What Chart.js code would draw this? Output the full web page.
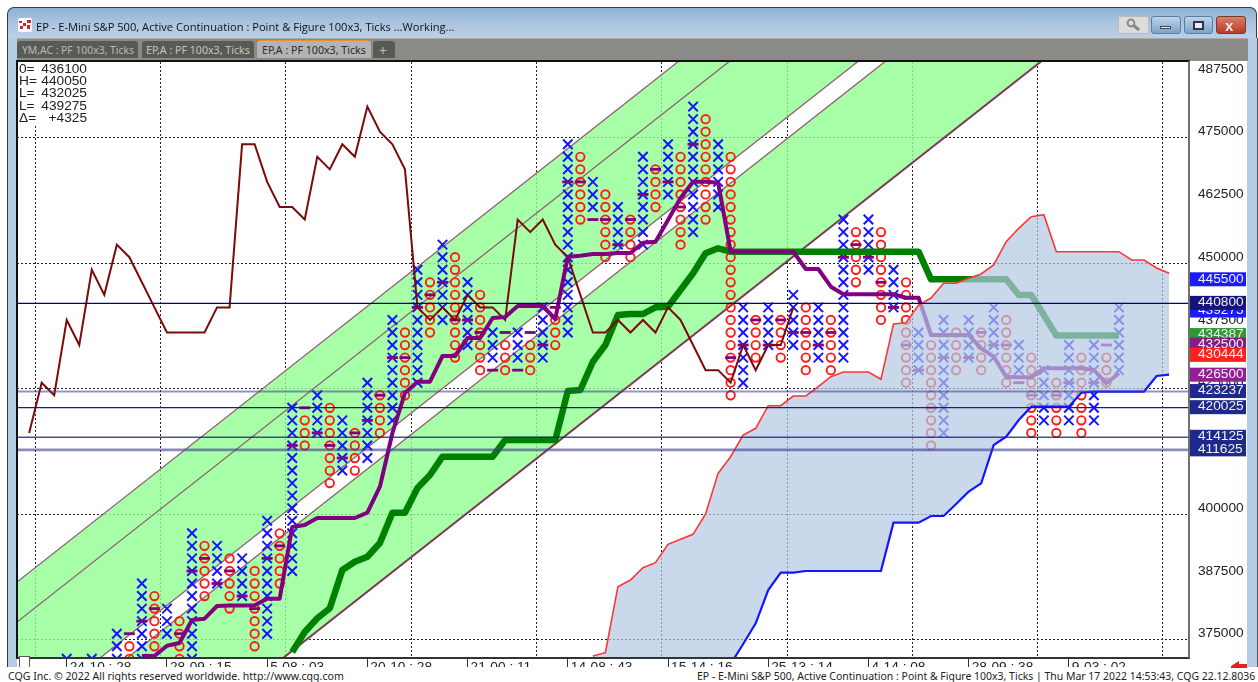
<!DOCTYPE html>
<html><head><meta charset="utf-8">
<script src="https://cdn.jsdelivr.net/npm/chart.js@4"></script>
<style>
html,body{margin:0;padding:0;background:#fff}
#w{position:relative;width:1258px;height:682px;overflow:hidden;background:#fff}
#w div,#w span{position:absolute;box-sizing:border-box}
canvas{position:absolute;left:0;top:0}
.t{white-space:nowrap;line-height:1}
.lg{font:13.7px "Liberation Sans";color:#222;white-space:pre;line-height:1}
</style></head><body>
<div id="w">
<canvas id="c" width="1258" height="682"></canvas>
<!-- window chrome -->
<div style="left:7px;top:7px;width:1250px;height:31px;border:1px solid #3a3a3a;border-bottom:0;border-radius:7px 7px 0 0;background:linear-gradient(#8db0d4,#a9c3df 45%,#bcd0e5)"></div>
<div style="left:7px;top:38px;width:10px;height:630px;background:#b5cde6;border-left:1px solid #3a3a3a"></div>
<div style="left:1247px;top:38px;width:11px;height:630px;background:#b5cde6;border-right:1px solid #555"></div>
<div style="left:17px;top:38px;width:1231px;height:23px;background:#8a8a86;border-top:1px solid #a8a8a4"></div>
<svg style="position:absolute;left:18px;top:18px" width="14" height="14"><rect width="14" height="14" rx="2" fill="#fff"/><g fill="#d0202a"><rect x="1" y="3" width="3" height="2"/><rect x="5" y="5" width="3" height="3"/><rect x="9" y="2" width="4" height="3"/><rect x="2" y="8" width="3" height="3"/><rect x="9" y="7" width="3" height="4"/></g></svg>
<span class="t" id="title" data-w="419" style="left:36px;top:19px;font:12px 'Open Sans';color:#111">EP - E-Mini S&amp;P 500, Active Continuation : Point &amp; Figure 100x3, Ticks ...Working...</span>
<div style="left:1118px;top:16px;width:31px;height:18px;background:#dcdcdc;border:1px solid #bbb"></div>
<svg style="position:absolute;left:1126px;top:18px" width="15" height="14"><circle cx="5" cy="5" r="3.4" fill="none" stroke="#888" stroke-width="2"/><line x1="7" y1="7" x2="13" y2="12" stroke="#888" stroke-width="3"/></svg>
<div style="left:1151px;top:16px;width:30px;height:18px;border:1px solid #5d7f9f;border-radius:3px;background:linear-gradient(#bcd3ea,#7ea3c9)"></div>
<div style="left:1160px;top:26px;width:11px;height:3px;background:#e8eef5;border:1px solid #445"></div>
<div style="left:1184px;top:16px;width:29px;height:18px;border:1px solid #5d7f9f;border-radius:3px;background:linear-gradient(#bcd3ea,#7ea3c9)"></div>
<div style="left:1193px;top:21px;width:11px;height:9px;background:#e8eef5;border:2px solid #334"></div>
<div style="left:1216px;top:16px;width:30px;height:18px;border:1px solid #7a3a30;border-radius:3px;background:linear-gradient(#d9806c,#b83a24)"></div>
<span class="t" style="left:1225px;top:17px;font:bold 15px 'Liberation Sans';color:#eee">x</span>
<!-- tabs -->
<div style="left:17px;top:41px;width:121px;height:17px;background:#5a5a55;border-radius:3px 3px 0 0"></div>
<span class="t tab" data-w="112" style="left:22px;top:43px;font:11.5px 'Noto Sans';color:#b9b9b6">YM,AC : PF 100x3, Ticks</span>
<div style="left:142px;top:41px;width:112px;height:17px;background:#5a5a55;border-radius:3px 3px 0 0"></div>
<span class="t tab" data-w="104" style="left:146px;top:43px;font:11.5px 'Noto Sans';color:#c4c4c0">EP,A : PF 100x3, Ticks</span>
<div style="left:257px;top:40px;width:114px;height:18px;background:#b3b3b3;border-top:1px solid #e6942a;border-radius:3px 3px 0 0"></div>
<span class="t tab" data-w="104" style="left:262px;top:43px;font:11.5px 'Noto Sans';color:#2a2a2a">EP,A : PF 100x3, Ticks</span>
<div style="left:373px;top:41px;width:22px;height:17px;background:#5a5a55;border-radius:3px 3px 0 0"></div>
<span class="t" style="left:379px;top:41px;font:14px 'Noto Sans';color:#bbb">+</span>
<!-- plot frame -->
<div style="left:16px;top:60px;width:1174px;height:599px;border-top:2px solid #111;border-left:2px solid #111;border-bottom:2px solid #333;border-right:2px solid #707070;background:transparent"></div>
<div id="lg" style="left:18px;top:62px;width:78px;height:62px;background:#fff"></div>
<div style="left:19px;top:656px;width:11px;height:12px;background:#fff;border:1px solid #555"></div>
<!-- footer -->
<div style="left:0;top:667px;width:1258px;height:15px;background:#fff"></div>
<span class="t" id="f1" data-w="336" style="left:8px;top:669px;font:11px 'Noto Sans';color:#222">CQG Inc. © 2022 All rights reserved worldwide. http://www.cqg.com</span>
<span class="t" id="f2" data-w="559" style="left:697px;top:669px;font:11px 'Noto Sans';color:#222">EP - E-Mini S&amp;P 500, Active Continuation : Point &amp; Figure 100x3, Ticks | Thu Mar 17 2022 14:53:43, CQG 22.12.8036</span>
<svg style="position:absolute;left:1231px;top:661px" width="18" height="8"><polygon points="0,5 8,0 8,3 16,3 16,7 0,7" fill="#e8201a"/></svg>
</div>
<script>
// ---- values ----
const legendLabels=['0=','H=','L=','L=','Δ='];
const legendValues=['436100','440050','432025','439275','+4325'];
const yTicks=[375000,387500,400000,412500,425000,437500,450000,462500,475000,487500];
const yGridLines=[373750,398750,423750,448750,473750];
const xGridCols=[-0.5,9.5,19.5,29.5,39.5,49.5,59.5,69.5,79.5,89.5];
const timeLabels=['24-10 : 28','28-09 : 15','5-08 : 03','20-10 : 28','21-00 : 11','14-08 : 43','15-14 : 16','25-13 : 14','4-14 : 08','28-09 : 38','9-03 : 02'];
const timeCols=[2,10,18,26,34,42,50,58,66,74,82];

const xCols=[2,4,6,8,10,12,14,16,18,20,22,24,26,28,30,32,34,36,38,40,42,44,46,48,50,52,54,56,58,60,62,64,66,68,70,72,74,76,78,80,82,84,86];
const xLow=[370000,370000,370000,370000,375000,370000,385000,382500,375000,387500,415000,407500,410000,417500,425000,437500,432500,430000,430000,430000,435000,460000,452500,452500,462500,455000,460000,425000,432500,432500,430000,430000,447500,440000,427500,415000,430000,430000,427500,417500,417500,417500,427500];
const xHigh=[370000,370000,375000,385000,380000,395000,392500,390000,397500,420000,422500,417500,425000,437500,447500,452500,445000,435000,435000,440000,472500,465000,460000,470000,472500,480000,472500,440000,440000,442500,440000,457500,457500,447500,435000,437500,437500,440000,432500,427500,432500,432500,440000];
const oCols=[7,9,11,13,15,17,19,21,23,25,27,29,31,33,35,37,39,41,43,45,47,49,51,53,55,57,59,61,63,65,67,69,71,73,75,77,79,81,83,85];
const oLow=[370000,372500,370000,382500,380000,372500,385000,412500,405000,407500,415000,422500,435000,430000,427500,427500,427500,432500,457500,450000,450000,460000,452500,457500,422500,430000,430000,427500,427500,445000,437500,425000,412500,427500,427500,425000,415000,415000,415000,425000];
const oHigh=[372500,382500,377500,392500,390000,387500,395000,417500,420000,415000,422500,435000,445000,450000,442500,432500,432500,437500,470000,462500,457500,467500,470000,477500,470000,437500,437500,440000,437500,455000,455000,445000,432500,435000,435000,437500,430000,425000,430000,430000];

const dashCols=[3,7,8,9,11,12,13,14,15,16,17,18,19,20,21,22,23,24,25,26,27,28,29,30,31,32,33,34,35,36,37,38,39,40,41,42,43,44,45,46,47,48,49,50,51,52,55,56,57,58,59,60,61,62,63,64,65,66,67,68,69,70,71,72,74,75,76,77,78,79,81,82,84,85];
const dashValues=[370000,375000,377500,380000,375000,387500,390000,385000,387500,382500,380000,390000,392500,412500,420000,415000,412500,410000,415000,417500,422500,430000,430000,440000,442500,445000,437500,437500,435000,427500,435000,427500,435000,432500,440000,465000,465000,457500,457500,452500,457500,462500,467500,465000,460000,472500,430000,432500,437500,432500,437500,435000,435000,432500,435000,450000,452500,450000,445000,440000,432500,427500,420000,430000,430000,435000,432500,432500,425000,422500,422500,425000,425000,432500];

const purpleStart=8;
const purpleValues=[370558,370558,372610,373147,377729,377988,380518,380600,380600,380657,381972,381972,396255,396653,398047,398047,398047,398047,399103,404282,414979,422947,425198,425198,430318,430318,433903,433903,437887,438100,440278,440278,440278,437688,450098,450298,450636,450636,450835,450835,452887,453086,457409,461791,465038,465038,464839,451094,451094,451094,451094,451094,451094,447648,447648,444122,442608,442608,442608,442608,442608,441931,441931,434501,434501,434501,434501,431852,430178,426194,426075,426075,427868,427868,427868,427868,427529,424880,426872];
const greenStart=20;
const greenValues=[371355,375339,378068,380060,387689,389342,390338,393067,399103,399103,404023,406613,410258,410258,410258,410258,410258,413585,413585,413585,413585,413585,423346,423545,429182,432509,438485,438684,438684,440019,440138,443465,446792,450776,451772,451094,451094,451094,451094,451094,451094,451094,451094,451094,451094,451094,451094,451094,451094,451094,451094,445596,445596,445596,445596,445596,445596,445596,442469,442469,438485,434387,434387,434387,434387,434387,434387];
const laggingStart=-1;
const laggingValues=[415000,425000,422500,437500,432500,447500,442500,452500,450000,445000,440000,435000,435000,435000,435000,440000,440000,472500,472500,465000,460000,460000,457500,470000,467500,472500,470000,480000,475000,472500,467500,440000,437500,440000,437500,442500,440000,440000,437500,457500,455000,457500,452500,450000,442500,435000,435000,437500,435000,437500,435000,440000,437500,432500,427500,427500,425000,432500,427500,432500,432500,440000];
const cloudStart=44;
const spanAValues=[370558,371215,384362,385697,388147,389143,392808,393804,394800,398844,406952,410258,414581,415916,420418,420418,422350,422350,424202,426194,427131,427131,427131,425676,436692,436951,440477,441871,444800,444800,445796,446652,448445,453086,455756,458066,458465,451094,451094,451094,451094,451094,451094,449441,449441,447847,446792];
const spanBValues=[350000,352000,354000,356000,358000,360000,362000,364000,366000,367000,368000,368964,372948,377072,383705,387151,387151,387490,387490,387490,387490,387490,387490,387490,397111,397111,397111,398446,398446,400836,403286,404960,412589,414242,417569,420218,420218,420218,420218,423007,423237,423237,423237,423237,423237,426334,426593];

const channelCols=[-2,92];
const channelA=[385239,569836];
const channelB=[377271,561868];
const channelC=[357092,541689];
const channelD=[352829,537426];
const channelE=[328387,512984];

const levelValues=[440800,423237,420025,414125,411625];
const flagValues=[445500,439275,440800,434387,432500,430444,426500,423237,420025,414125,411625];

// ---- styling ----
const levelStyle={440800:['#000080',1.2],423237:['rgba(60,60,155,.55)',2],420025:['#1c1c86',1.2],414125:['rgba(30,30,130,.8)',1.4],411625:['rgba(60,60,150,.6)',2.6]};
const flagColor={445500:'#1a1aff',439275:'#1a1aff',440800:'#14147f',434387:'#2f982f',432500:'#861d86',430444:'#ff2020',426500:'#941e94',423237:'#1d2a8c',420025:'#1d2a8c',414125:'#1d2a8c',411625:'#1d2a8c'};
const chanLine='#8f5f70', green='rgba(145,255,145,.8)';

// ---- builders ----
const seq=(s,v)=>v.map((y,i)=>({x:s+i,y}));
const pair=(a,b)=>a.map((x,i)=>({x,y:b[i]}));
const stack=(c,l,h)=>{const o=[];c.forEach((x,i)=>{for(let y=l[i];y<=h[i];y+=2500)o.push({x,y})});return o};

const base={pointRadius:0,tension:0,fill:false};
const datasets=[
 {...base,data:pair(channelCols,channelA),borderColor:chanLine,borderWidth:1.3,fill:'+2',backgroundColor:green,order:30},
 {...base,data:pair(channelCols,channelB),borderColor:chanLine,borderWidth:1.3,order:29},
 {...base,data:pair(channelCols,channelC),borderColor:chanLine,borderWidth:1.3,order:28},
 {...base,data:pair(channelCols,channelD),borderColor:chanLine,borderWidth:1.3,fill:'+1',backgroundColor:green,order:27},
 {...base,data:pair(channelCols,channelE),borderColor:'#7d3a55',borderWidth:2,order:26},
 {data:stack(xCols,xLow,xHigh),showLine:false,pointStyle:'crossRot',pointRadius:6.7,pointBorderColor:'#1414ff',pointBorderWidth:2,pointBackgroundColor:'transparent',order:25},
 {data:stack(oCols,oLow,oHigh),showLine:false,pointStyle:'circle',pointRadius:4.2,pointBorderColor:'#ff1a1a',pointBorderWidth:1.9,pointBackgroundColor:'transparent',order:24},
 {data:pair(dashCols,dashValues),showLine:false,pointStyle:'line',pointRadius:5.5,pointBorderColor:'#800080',pointBorderWidth:2.8,order:23},
 {...base,data:seq(greenStart,greenValues),borderColor:'#008000',borderWidth:6.5,borderJoinStyle:'round',order:22},
 {...base,data:seq(laggingStart,laggingValues),borderColor:'#7d0a0a',borderWidth:2,order:21},
 {...base,data:seq(purpleStart,purpleValues),borderColor:'#800080',borderWidth:4,borderJoinStyle:'round',order:20},
 {...base,data:seq(cloudStart,spanAValues),borderColor:'#ff3434',borderWidth:1.6,fill:'+1',backgroundColor:'rgba(180,200,228,.7)',order:19},
 {...base,data:seq(cloudStart,spanBValues),borderColor:'#1515ff',borderWidth:2.2,order:18},
];
levelValues.forEach(v=>datasets.push({...base,data:[{x:-2,y:v},{x:92,y:v}],borderColor:levelStyle[v][0],borderWidth:levelStyle[v][1],order:10}));

const flags={id:'flags',afterDraw(c){
  const g=c.ctx,s=c.scales.y,a=c.chartArea;
  g.save();g.font='13.7px "Liberation Sans"';g.textBaseline='middle';g.textAlign='left';
  flagValues.forEach(v=>{const y=s.getPixelForValue(v);
    g.fillStyle=flagColor[v];g.fillRect(a.right+1,y-7.5,56,14);
    g.fillStyle='#f2f2f2';g.fillText(String(v),a.right+9,y-1);});
  g.restore();
}};
const dotted={color:'#222',lineWidth:1};
new Chart(document.getElementById('c'),{
 type:'line',data:{datasets},plugins:[flags],
 options:{responsive:false,animation:false,events:[],devicePixelRatio:1,
  layout:{padding:{left:17,top:62,right:11,bottom:0}},
  plugins:{legend:{display:false},tooltip:{enabled:false},title:{display:false}},
  scales:{
   x:{type:'linear',position:'bottom',min:-1.97,max:91.59,
      afterBuildTicks:s=>{s.ticks=xGridCols.map(value=>({value}))},afterFit:s=>{s.height=0},
      ticks:{display:false},grid:{...dotted,drawTicks:false},border:{display:false,dash:[2,2]}},
   xt:{type:'linear',position:'bottom',min:-1.97,max:91.59,
      afterBuildTicks:s=>{s.ticks=timeCols.map(value=>({value}))},afterFit:s=>{s.height=24},
      ticks:{autoSkip:false,maxRotation:0,minRotation:0,align:'start',labelOffset:3,padding:-9,color:'#222',font:{family:'Liberation Sans',size:13.7},callback:(v,i)=>timeLabels[i]},
      grid:{drawOnChartArea:false,drawTicks:true,tickLength:10,color:'#333'},border:{display:false}},
   y:{type:'linear',position:'right',min:370159,max:488883,
      afterBuildTicks:s=>{s.ticks=yTicks.map(value=>({value}))},afterFit:s=>{s.width=58},
      ticks:{padding:9,color:'#222',font:{family:'Liberation Sans',size:13.7},callback:v=>String(v)},
      grid:{display:false,drawTicks:false},border:{display:false}},
   yg:{type:'linear',position:'right',min:370159,max:488883,
      afterBuildTicks:s=>{s.ticks=yGridLines.map(value=>({value}))},afterFit:s=>{s.width=0},
      ticks:{display:false},grid:{...dotted,drawTicks:false},border:{display:false,dash:[2,2]}}
  }}
});
// legend block and text fitting
const lg=document.getElementById('lg');
legendLabels.forEach((t,i)=>{
  const a=document.createElement('span');a.className='lg';a.textContent=t;a.style.left='1px';a.style.top=(i*12.45-0.5)+'px';lg.appendChild(a);
  const b=document.createElement('span');b.className='lg';b.textContent=legendValues[i];b.style.right='9px';b.style.top=(i*12.45-0.5)+'px';lg.appendChild(b);
});
document.querySelectorAll('[data-w]').forEach(e=>{
  const fs=parseFloat(getComputedStyle(e).fontSize);
  e.style.fontSize=(fs*parseFloat(e.dataset.w)/e.getBoundingClientRect().width)+'px';
});
</script>
</body></html>
